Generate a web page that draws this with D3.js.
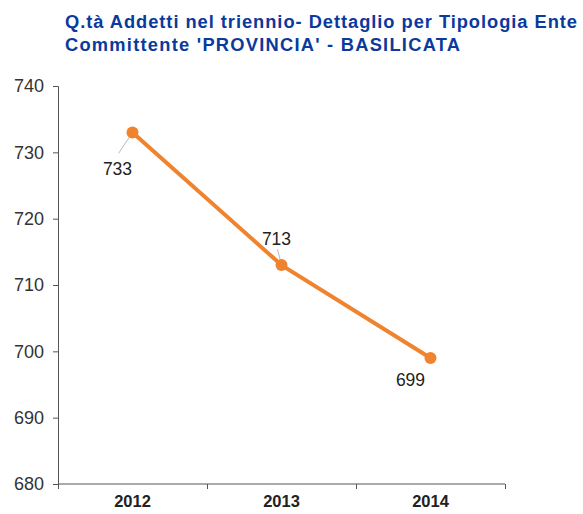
<!DOCTYPE html>
<html>
<head>
<meta charset="utf-8">
<script src="https://cdn.jsdelivr.net/npm/d3@7"></script>
<style>
  body { margin: 0; background: #fff; }
  text { font-family: "Liberation Sans", Arial, sans-serif; }
</style>
</head>
<body>
<div id="main"></div>
<script>
// dati
const years = ["2012", "2013", "2014"];
const addetti = [733, 713, 699];
const yTicks = [680, 690, 700, 710, 720, 730, 740];
const titleLines = ["Q.tà Addetti nel triennio- Dettaglio per Tipologia Ente", "Committente 'PROVINCIA' - BASILICATA"];

const W = 583, H = 514;
const margin = {top: 86, right: 78, bottom: 30, left: 58};
const width = W - margin.left - margin.right,
      height = H - margin.top - margin.bottom;

const svg = d3.select("#main")
  .append("svg")
    .attr("width", W)
    .attr("height", H);

// titolo
const titleWidths = [512, 395];
svg.append("g")
  .selectAll("text")
  .data(titleLines)
  .join("text")
    .attr("x", 65)
    .attr("y", (d, i) => 28 + i * 23)
    .attr("font-size", 18.3)
    .attr("font-weight", "bold")
    .attr("fill", "#0a3a9c")
    .attr("textLength", (d, i) => titleWidths[i])
    .attr("lengthAdjust", "spacing")
    .text(d => d);

const g = svg.append("g")
  .attr("transform", `translate(${margin.left},${margin.top})`);

const x = d3.scaleBand().domain(years).range([0, width]);
const y = d3.scaleLinear().domain([680, 740]).range([height, 0]);

// asse Y
const yAxis = g.append("g")
  .call(d3.axisLeft(y).tickValues(yTicks).tickSize(5).tickPadding(9).tickFormat(d3.format("d")));
yAxis.select(".domain").attr("stroke", "#555").attr("d", `M-5,0.5H0.5V${height}`);
yAxis.selectAll(".tick line").attr("stroke", "#555");
yAxis.selectAll(".tick text").attr("font-size", 18).attr("fill", "#333");

// asse X
const xAxis = g.append("g")
  .attr("transform", `translate(0,${height})`)
  .call(d3.axisBottom(x).tickSize(0).tickPadding(11));
xAxis.select(".domain").attr("stroke", "#555").attr("d", `M0.5,0H${width}`);
xAxis.selectAll(".tick text").attr("font-size", 16.5).attr("font-weight", "bold").attr("fill", "#222");
// tacche ai bordi delle categorie
const bounds = years.map(d => x(d)).concat([width]);
xAxis.selectAll(".bnd")
  .data(bounds)
  .join("line")
    .attr("class", "bnd")
    .attr("x1", d => Math.round(d) + 0.5)
    .attr("x2", d => Math.round(d) + 0.5)
    .attr("y1", 0)
    .attr("y2", 5)
    .attr("stroke", "#555");

const cx = d => x(d) + x.bandwidth() / 2;
const pts = years.map((d, i) => ({year: d, value: addetti[i]}));

// linea
g.append("path")
  .datum(pts)
  .attr("fill", "none")
  .attr("stroke", "#f0832e")
  .attr("stroke-width", 4)
  .attr("d", d3.line().x(d => cx(d.year)).y(d => y(d.value)));

// etichette con linee guida
const labelOffsets = [{dx: -15, dy: 43, lx: -14, ly: 21}, {dx: -5, dy: -20, lx: -4, ly: -16}, {dx: -20, dy: 28, lx: null, ly: null}];
pts.forEach((p, i) => {
  const o = labelOffsets[i];
  if (o.lx !== null) {
    g.append("line")
      .attr("x1", cx(p.year)).attr("y1", y(p.value))
      .attr("x2", cx(p.year) + o.lx).attr("y2", y(p.value) + o.ly)
      .attr("stroke", "#bbb").attr("stroke-width", 1);
  }
});

g.selectAll(".pt")
  .data(pts)
  .join("circle")
    .attr("class", "pt")
    .attr("cx", d => cx(d.year))
    .attr("cy", d => y(d.value))
    .attr("r", 6)
    .attr("fill", "#f0832e");

g.selectAll(".lbl")
  .data(pts)
  .join("text")
    .attr("class", "lbl")
    .attr("x", (d, i) => cx(d.year) + labelOffsets[i].dx)
    .attr("y", (d, i) => y(d.value) + labelOffsets[i].dy)
    .attr("text-anchor", "middle")
    .attr("font-size", 17.5)
    .attr("fill", "#222")
    .text(d => d.value);
</script>
</body>
</html>
